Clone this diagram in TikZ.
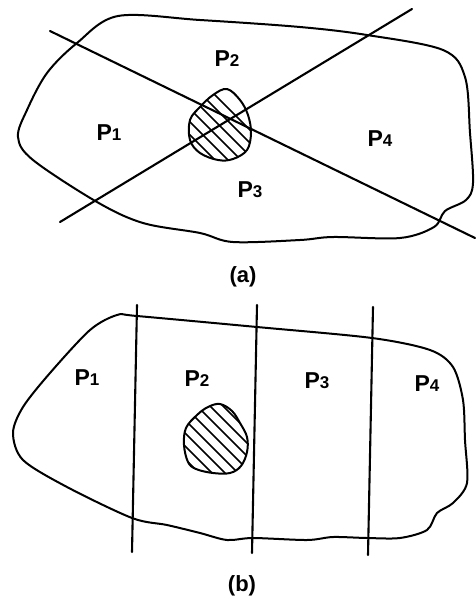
\documentclass[tikz,border=0pt]{standalone}
\usepackage{fontspec}
\setmainfont{Liberation Sans}
\newcommand\plab[1]{P{\fontsize{17}{17}\selectfont #1}}
\begin{document}
\begin{tikzpicture}[x=1pt,y=-1pt, line width=1.6pt, line join=round, line cap=round,
 lbl/.style={font=\fontsize{23}{23}\selectfont\bfseries, inner sep=0pt},
 captext/.style={font=\fontsize{22}{22}\selectfont\bfseries, inner sep=0pt},
 outline/.style={line width=2pt},
 cutline/.style={line width=2.1pt},
 hatch/.style={line width=1.5pt}]
\useasboundingbox (0,0) rectangle (475,606);

% ---------- (a) ----------
\draw[outline] plot[smooth cycle, tension=0.55] coordinates {
 (118,16) (200,20) (300,27) (367,35) (443,50) (465,77) (470,133) (473,183)
 (466,200) (445,211) (434,227) (400,238) (333,237) (300,240) (233,242) (200,233)
 (143,223) (97,202) (33,160) (18,137) (27,110) (47,73) (77,43)};

\def\blobA{(227,89) (240,100) (248,115) (251,133) (247,150) (233,159) (218,160)
 (200,153) (190,140) (190,120) (200,107) (213,95)}
\begin{scope}
 \clip plot[smooth cycle, tension=0.6] coordinates {\blobA};
 \foreach \c in {-120,-107,...,60}{
   \draw[hatch] (150,{150+\c}) -- (300,{300+\c});
 }
\end{scope}
\draw[outline] plot[smooth cycle, tension=0.6] coordinates {\blobA};

\coordinate (l1a) at (50,31);
\coordinate (l1b) at (475,238);
\coordinate (l2a) at (60,222);
\coordinate (l2b) at (412,9);
\draw[cutline] (l1a) -- (l1b);
\draw[cutline] (l2a) -- (l2b);

\node[lbl] (a1) at (109,133) {\plab{1}};
\node[lbl] (a2) at (227,59) {\plab{2}};
\node[lbl] (a3) at (250,190) {\plab{3}};
\node[lbl] (a4) at (380,139) {\plab{4}};
\node[captext] (capa) at (243,277) {(a)};

% ---------- (b) ----------
\draw[outline] plot[smooth cycle, tension=0.5] coordinates {
 (117,315) (137,316) (257,327) (372,338) (430,350) (453,367) (463,400) (465,440)
 (467,483) (453,503) (437,513) (427,530) (400,538) (367,538) (333,537) (307,540)
 (253,538) (227,540) (200,533) (167,525) (132,518) (67,487) (23,460) (13,433)
 (23,407) (50,373) (90,330)};

\def\blobB{(220,404) (232,411) (240,423) (247,437) (247,452) (241,466) (230,473) (213,473)
 (196,469) (188,462) (184,445) (186,428) (197,415) (208,407)}
\begin{scope}
 \clip plot[smooth cycle, tension=0.6] coordinates {\blobB};
 \foreach \c in {-120,-107,...,60}{
   \draw[hatch] (150,{440+\c}) -- (300,{590+\c});
 }
\end{scope}
\draw[outline] plot[smooth cycle, tension=0.6] coordinates {\blobB};

\coordinate (v1a) at (137,305);
\coordinate (v1b) at (132,552);
\coordinate (v2a) at (257,305);
\coordinate (v2b) at (252,553);
\coordinate (v3a) at (373,307);
\coordinate (v3b) at (368,555);
\draw[cutline] (v1a) -- (v1b);
\draw[cutline] (v2a) -- (v2b);
\draw[cutline] (v3a) -- (v3b);

\node[lbl] (b1) at (87,378) {\plab{1}};
\node[lbl] (b2) at (197,379) {\plab{2}};
\node[lbl] (b3) at (317,381) {\plab{3}};
\node[lbl] (b4) at (427,384) {\plab{4}};
\node[captext] (capb) at (242,586) {(b)};
\end{tikzpicture}
\end{document}
